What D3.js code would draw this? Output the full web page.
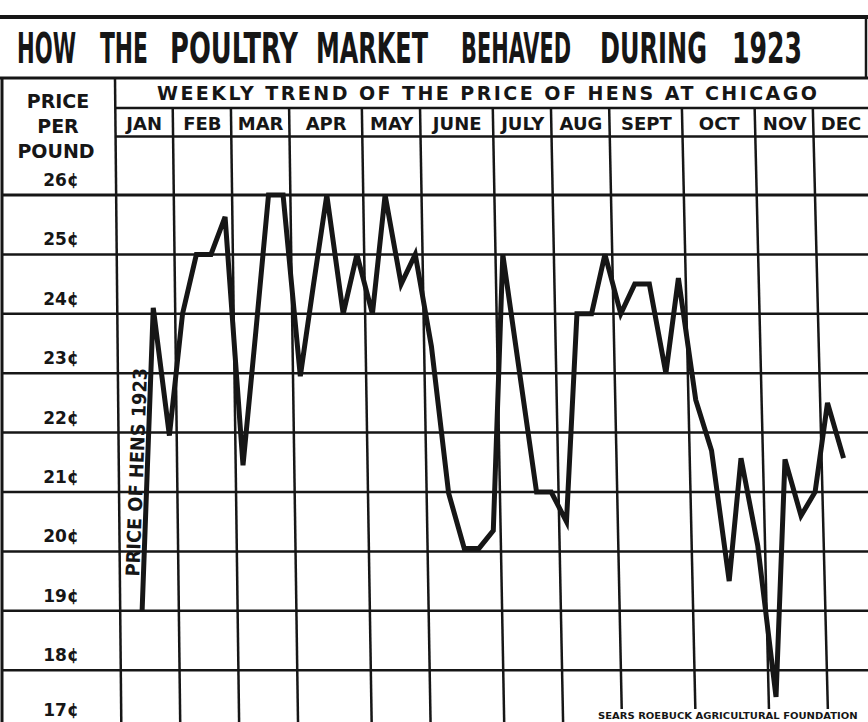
<!DOCTYPE html>
<html>
<head>
<meta charset="utf-8">
<script src="https://cdn.jsdelivr.net/npm/d3@7"></script>
<style>
  body { margin: 0; background: #fff; }
  svg { display: block; }
</style>
</head>
<body>
<svg id="chart"></svg>
<script>
// months and how many weekly columns each one gets on the chart
const months = ["JAN", "FEB", "MAR", "APR", "MAY", "JUNE", "JULY", "AUG", "SEPT", "OCT", "NOV", "DEC"];
const weeksPerMonth = [4, 4, 4, 5, 4, 5, 4, 4, 5, 5, 4, 4];
const priceTicks = [17, 18, 19, 20, 21, 22, 23, 24, 25, 26];

// weekly price of hens at Chicago, cents per pound
const weeks = [2, 3, 4, 5, 6, 7, 8, 9, 10, 11, 12, 13, 14, 15, 16, 17, 18, 19, 20, 21, 22, 23, 24, 25, 26,
  27, 28, 29, 30, 31, 32, 33, 34, 35, 36, 37, 38, 39, 40, 41, 42, 43, 44, 45, 46, 47, 48, 49, 50];
const prices = [19.0, 24.1, 21.95, 24.0, 25.0, 25.0, 25.63, 21.45, 23.7, 26.0, 26.0, 22.95, 24.5, 26.0, 24.0,
  25.0, 24.0, 26.0, 24.5, 25.0, 23.45, 20.98, 20.05, 20.05, 20.35, 25.0, 23.0, 21.0, 21.0, 20.5, 24.0, 24.0,
  25.0, 24.0, 24.5, 24.5, 23.0, 24.6, 22.55, 21.7, 19.5, 21.57, 20.1, 17.55, 21.55, 20.6, 21.0, 22.5, 21.57];

const titleWords = ["HOW", "THE", "POULTRY", "MARKET", "BEHAVED", "DURING", "1923"];
const titleX = [17, 100, 170, 316, 461, 600, 732];
const titleW = [59, 48, 128, 112, 110, 107, 70];

const width = 868, height = 722;
const ink = "#161616";
const narrow = "'Liberation Sans Narrow', 'DejaVu Sans Condensed', sans-serif";
const sans = "'DejaVu Sans', sans-serif";

const svg = d3.select("#chart").attr("width", width).attr("height", height);
svg.append("rect").attr("width", width).attr("height", height).attr("fill", "#fff");

const x = d3.scaleLinear().domain([0, 52]).range([115, 115 + 52 * 14.56]);
const y = d3.scaleLinear().domain([17, 26]).range([729.6, 195]);

// the printed grid leans a little to the right towards the bottom
const warp = (px, py) => px + (0.011 + 0.00002 * (px - 115)) * (py - 150);

const bounds = [0, ...d3.cumsum(weeksPerMonth)];

// squeeze a text horizontally so that it is exactly w pixels wide
function fitText(sel, w, tx, ty, rot) {
  const natural = sel.node().getComputedTextLength();
  sel.attr("transform", `translate(${tx},${ty}) rotate(${rot || 0}) scale(${w / natural},1)`);
}

// title box
svg.append("line").attr("x1", 0).attr("x2", width).attr("y1", 17).attr("y2", 17)
  .attr("stroke", ink).attr("stroke-width", 4);
svg.append("line").attr("x1", 0).attr("x2", width).attr("y1", 78).attr("y2", 78)
  .attr("stroke", ink).attr("stroke-width", 3);
svg.append("line").attr("x1", 866).attr("x2", 866).attr("y1", 17).attr("y2", 78)
  .attr("stroke", ink).attr("stroke-width", 2.5);

titleWords.forEach((word, i) => {
  const t = svg.append("text")
    .attr("font-family", narrow).attr("font-weight", "bold")
    .attr("font-size", 43).attr("fill", ink)
    .text(word);
  fitText(t, titleW[i], titleX[i], 63);
});

// header rows
svg.append("line").attr("x1", 115).attr("x2", width).attr("y1", 108).attr("y2", 108)
  .attr("stroke", ink).attr("stroke-width", 2.5);
svg.append("line").attr("x1", 115).attr("x2", width).attr("y1", 136.5).attr("y2", 136.5)
  .attr("stroke", ink).attr("stroke-width", 2.5);

svg.append("text").attr("x", 157).attr("y", 100)
  .attr("textLength", 660).attr("lengthAdjust", "spacing")
  .attr("font-family", sans).attr("font-weight", "bold")
  .attr("font-size", 19).attr("fill", ink)
  .text("WEEKLY TREND OF THE PRICE OF HENS AT CHICAGO");

svg.append("g").selectAll("text").data(months).join("text")
  .attr("x", (d, i) => Math.min((x(bounds[i]) + x(bounds[i + 1])) / 2, 841))
  .attr("y", 130).attr("text-anchor", "middle")
  .attr("font-family", sans).attr("font-weight", "bold")
  .attr("font-size", 18).attr("fill", ink)
  .text(d => d);

// left column heading
const lab = svg.append("g").attr("font-family", sans)
  .attr("font-weight", "bold").attr("fill", ink).attr("text-anchor", "middle");
lab.append("text").attr("x", 58).attr("y", 108).attr("font-size", 19).text("PRICE");
lab.append("text").attr("x", 58).attr("y", 133).attr("font-size", 19).text("PER");
lab.append("text").attr("x", 56).attr("y", 158).attr("font-size", 19).text("POUND");

lab.selectAll(".tick").data(priceTicks).join("text").attr("class", "tick")
  .attr("x", 61).attr("y", d => Math.min(y(d) - 9, 716)).attr("font-size", 17)
  .text(d => d + "¢");

// grid
svg.append("g").selectAll("line").data(priceTicks).join("line")
  .attr("x1", 2).attr("x2", width).attr("y1", d => y(d)).attr("y2", d => y(d))
  .attr("stroke", ink).attr("stroke-width", d => d === 26 ? 3 : 2.5);

svg.append("line").attr("x1", 2).attr("x2", 2).attr("y1", 78).attr("y2", height)
  .attr("stroke", ink).attr("stroke-width", 3);
svg.append("line").attr("x1", x(0)).attr("x2", warp(x(0), height)).attr("y1", 78).attr("y2", height)
  .attr("stroke", ink).attr("stroke-width", 2.5);

svg.append("g").selectAll("line").data(bounds.slice(1)).join("line")
  .attr("x1", d => warp(x(d), 108)).attr("y1", 108)
  .attr("x2", d => warp(x(d), height)).attr("y2", height)
  .attr("stroke", ink).attr("stroke-width", 2.5);

// price line
const pts = weeks.map((w, i) => [warp(x(w - 0.5), y(prices[i])), y(prices[i])]);
svg.append("path")
  .attr("d", d3.line()(pts))
  .attr("fill", "none").attr("stroke", ink).attr("stroke-width", 5)
  .attr("stroke-linejoin", "miter");

// label written along the first rise of the line
const a = Math.atan2(pts[1][1] - pts[0][1], pts[1][0] - pts[0][0]);
const along = 34, off = -4;
const lx = pts[0][0] + along * Math.cos(a) - off * Math.sin(a);
const ly = pts[0][1] + along * Math.sin(a) + off * Math.cos(a);
const rl = svg.append("text")
  .attr("font-family", narrow).attr("font-weight", "bold")
  .attr("font-size", 19).attr("fill", ink)
  .text("PRICE OF HENS 1923");
fitText(rl, 209, lx, ly, a * 180 / Math.PI);

// credit
svg.append("rect").attr("x", 596).attr("y", 709).attr("width", 266).attr("height", 13).attr("fill", "#fff");
const cr = svg.append("text")
  .attr("font-family", sans).attr("font-weight", "bold")
  .attr("font-size", 8).attr("fill", ink)
  .text("SEARS ROEBUCK AGRICULTURAL FOUNDATION");
fitText(cr, 260, 598, 719);
</script>
</body>
</html>
